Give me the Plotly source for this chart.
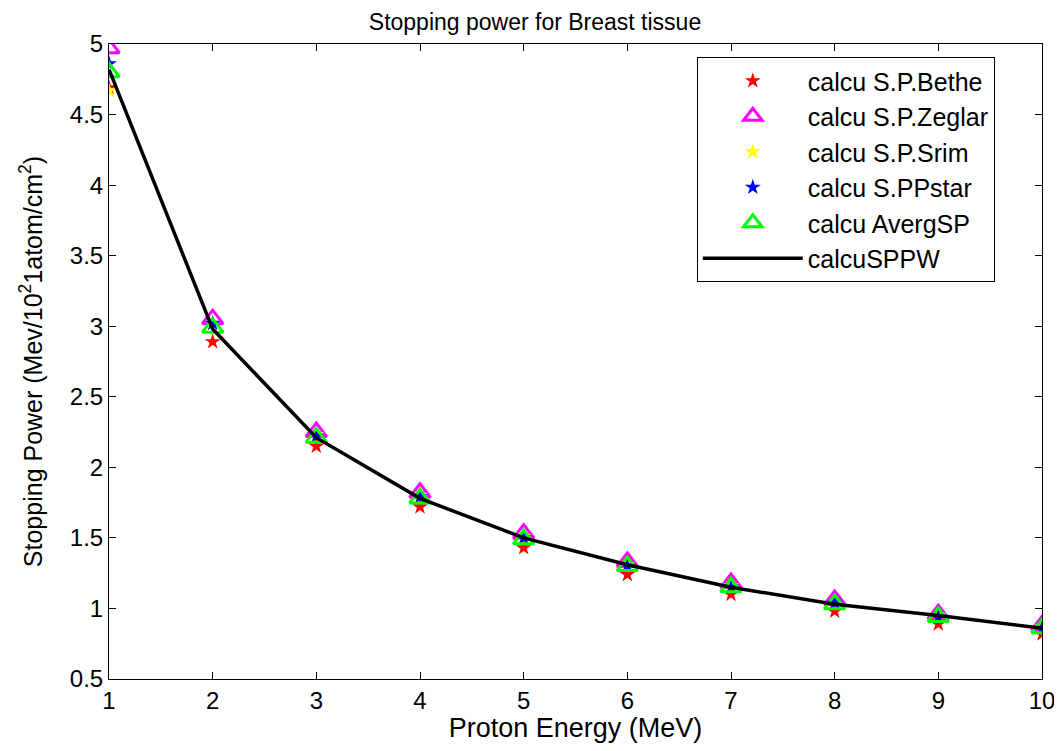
import plotly.graph_objects as go

energy = [1, 2, 3, 4, 5, 6, 7, 8, 9, 10]
bethe = [4.69, 2.89, 2.15, 1.72, 1.43, 1.24, 1.10, 0.98, 0.89, 0.82]
zeglar = [4.97, 3.05, 2.25, 1.82, 1.53, 1.33, 1.18, 1.06, 0.96, 0.88]
srim = [4.67, 3.02, 2.23, 1.80, 1.51, 1.31, 1.16, 1.04, 0.95, 0.87]
ppstar = [4.86, 3.02, 2.22, 1.79, 1.50, 1.30, 1.15, 1.04, 0.94, 0.86]
averg = [4.80, 2.99, 2.21, 1.78, 1.49, 1.30, 1.15, 1.03, 0.94, 0.86]
sppw = [4.82, 2.98, 2.21, 1.78, 1.50, 1.31, 1.15, 1.03, 0.95, 0.86]
y_ticks = [0.5, 1, 1.5, 2, 2.5, 3, 3.5, 4, 4.5, 5]
y_ticktext = ["0.5", "1", "1.5", "2", "2.5", "3", "3.5", "4", "4.5", "5"]

FONT = "Liberation Sans, Arial, sans-serif"

fig = go.Figure()
def star(name, y, color):
    fig.add_trace(go.Scatter(x=energy, y=y, mode="markers", name=name, legendgroup=name,
                             marker=dict(symbol="star", size=12, color=color, line=dict(width=0))))
def tri(name, y, color):
    fig.add_trace(go.Scatter(x=energy, y=y, mode="markers", name=name, legendgroup=name,
                             marker=dict(symbol="triangle-up-open", size=18, color=color,
                                         line=dict(width=3, color=color))))

star("calcu S.P.Bethe", bethe, "#ff0000")
tri("calcu S.P.Zeglar", zeglar, "#ff00ff")
star("calcu S.P.Srim", srim, "#ffff00")
star("calcu S.PPstar", ppstar, "#0000ff")
tri("calcu AvergSP", averg, "#00ff00")
fig.add_trace(go.Scatter(x=energy, y=sppw, mode="lines", name="calcuSPPW", legendgroup="calcuSPPW",
                         line=dict(color="black", width=3.5)))

axis_common = dict(showline=True, linecolor="black", linewidth=1, mirror="ticks",
                   ticks="inside", ticklen=7, tickcolor="black", showgrid=False, zeroline=False,
                   automargin=False, ticklabeloverflow="allow",
                   tickfont=dict(family=FONT, size=24, color="black"))

fig.update_layout(
    width=1054, height=735,
    paper_bgcolor="white", plot_bgcolor="white",
    margin=dict(l=101, r=20, t=36, b=64),
    title=dict(text="Stopping power for Breast tissue", x=0.5, xanchor="center",
               yref="container", y=0.992, yanchor="top",
               pad=dict(t=0, b=0), font=dict(family=FONT, size=23, color="black")),
    xaxis=dict(range=[1, 10], tickvals=energy, autorange=False,
               title=dict(text="Proton Energy (MeV)", standoff=4,
                          font=dict(family=FONT, size=27, color="black")),
               **axis_common),
    yaxis=dict(range=[0.5, 5], tickvals=y_ticks, ticktext=y_ticktext,
               title=dict(text="Stopping Power (Mev/10<sup>2</sup>1atom/cm<sup>2</sup>)", standoff=20,
                          font=dict(family=FONT, size=25, color="black")),
               **axis_common),
    legend=dict(x=0.630, y=0.9795, xanchor="left", yanchor="top",
                bordercolor="black", borderwidth=1, bgcolor="white",
                font=dict(family=FONT, size=25, color="black"),
                tracegroupgap=0, itemwidth=100),
    showlegend=True,
)

fig.write_html("out.html")
